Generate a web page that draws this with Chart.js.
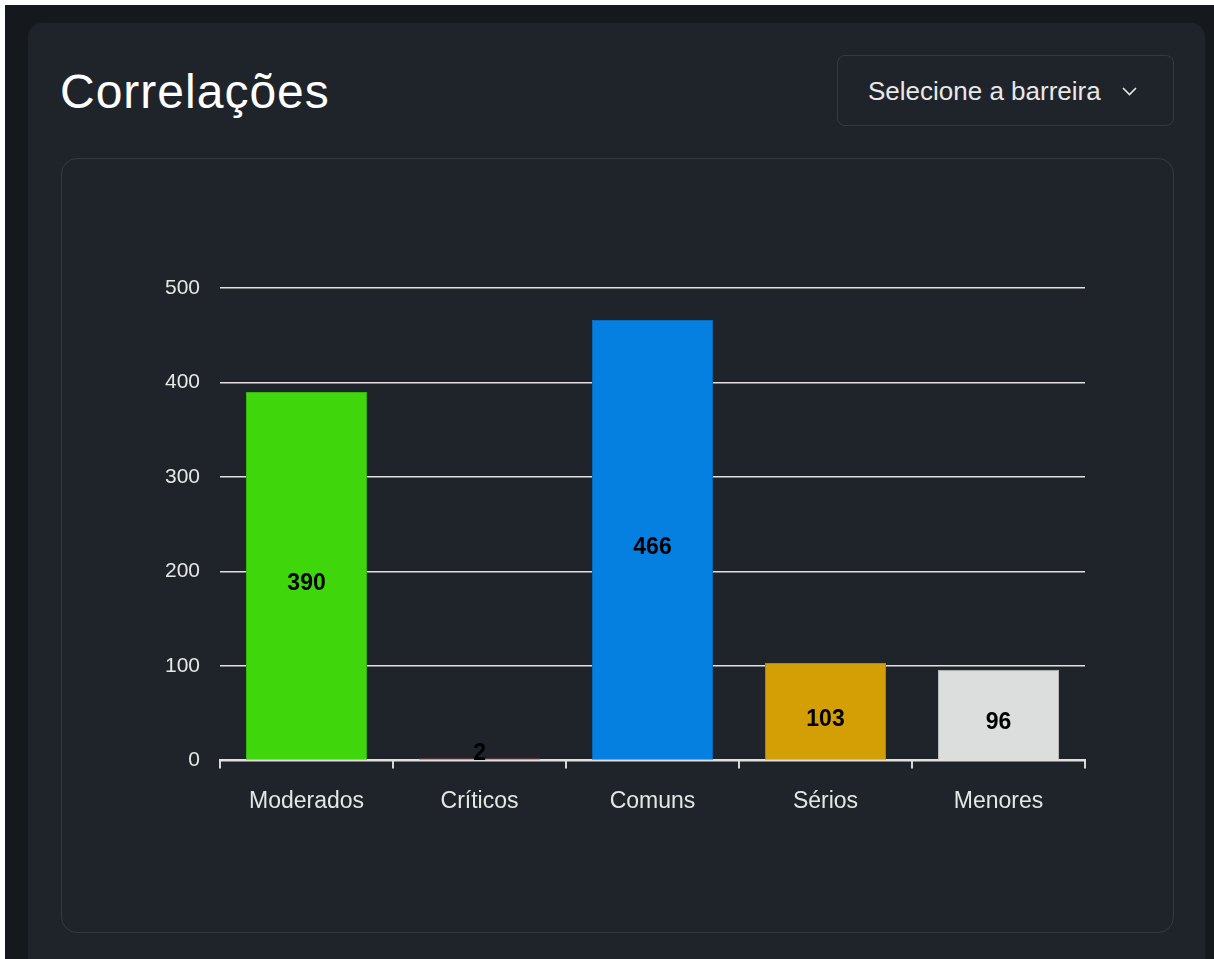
<!DOCTYPE html>
<html>
<head>
<meta charset="utf-8">
<script src="https://cdn.jsdelivr.net/npm/chart.js@4.4.0/dist/chart.umd.min.js"></script>
<style>
  body { margin: 0; background: #ffffff; overflow: hidden; }
  .page {
    position: absolute; left: 5px; top: 5px; width: 1209px; height: 954px;
    background: #15181c;
  }
  .card {
    position: absolute; left: 23px; top: 18px; width: 1177px; height: 960px;
    background: #1f242a; border-radius: 14px;
  }
  .title {
    position: absolute; left: 32px; top: 45px;
    font-family: "Liberation Sans", Arial, sans-serif; font-size: 48px; font-weight: 400;
    letter-spacing: 1px; color: #ffffff; margin: 0; line-height: 48px;
  }
  .select {
    position: absolute; left: 809px; top: 32px; width: 335px; height: 69px;
    border: 1px solid #353a41; border-radius: 8px;
    font-family: "Liberation Sans", Arial, sans-serif; font-size: 26px; color: #e8e8e8;
  }
  .select span { position: absolute; left: 30px; top: 20px; line-height: 30px; white-space: nowrap; }
  .select svg { position: absolute; left: 283px; top: 29px; }
  .box {
    position: absolute; left: 33px; top: 135px; width: 1111px; height: 773px;
    border: 1px solid #353a41; border-radius: 16px;
  }
  .box canvas { position: absolute; left: 0; top: 0; }
</style>
</head>
<body>
<div class="page">
  <div class="card">
    <h2 class="title">Correlações</h2>
    <div class="select">
      <span>Selecione a barreira</span>
      <svg width="17" height="12" viewBox="0 0 17 12"><path d="M2 3 L8.5 9.5 L15 3" fill="none" stroke="#e8e8e8" stroke-width="1.6"/></svg>
    </div>
    <div class="box">
      <canvas id="correlChart" width="1111" height="773"></canvas>
    </div>
  </div>
</div>
<script>
const categories = ['Moderados', 'Críticos', 'Comuns', 'Sérios', 'Menores'];
const counts = [390, 2, 466, 103, 96];
const yTicks = [0, 100, 200, 300, 400, 500];
const barColors = ['#3fd70c', '#e0524f', '#0680e0', '#d49e05', '#dcdedd'];
const barBorders = ['#36b80b', '#ef5f5a', '#056cbf', '#b88904', '#bfc1c0'];

// desenha o valor no meio de cada barra (mantém acima do eixo nas barras pequenas)
const valueLabels = {
  id: 'valueLabels',
  afterDatasetsDraw(chart) {
    const ctx = chart.ctx;
    ctx.save();
    ctx.font = 'bold 23px "Liberation Sans", Arial, sans-serif';
    ctx.fillStyle = '#000000';
    ctx.textAlign = 'center';
    ctx.textBaseline = 'middle';
    chart.getDatasetMeta(0).data.forEach(function (bar, i) {
      const p = bar.getCenterPoint();
      const y = Math.min(p.y + 8, bar.base - 6);
      ctx.fillText(String(counts[i]), p.x, y);
    });
    ctx.restore();
  }
};

const ctx = document.getElementById('correlChart').getContext('2d');
window.myChart = new Chart(ctx, {
  type: 'bar',
  data: {
    labels: categories,
    datasets: [{
      label: 'Correlações',
      data: counts,
      backgroundColor: barColors,
      borderColor: barBorders,
      borderWidth: 1,
      barPercentage: 0.7,
      categoryPercentage: 1
    }]
  },
  options: {
    responsive: false,
    animation: false,
    layout: { padding: { left: 83, right: 88, top: 129, bottom: 98 } },
    plugins: {
      legend: { display: false },
      tooltip: { enabled: false }
    },
    scales: {
      y: {
        min: yTicks[0],
        max: yTicks[yTicks.length - 1],
        afterBuildTicks: function (axis) {
          axis.ticks = yTicks.map(function (v) { return { value: v }; });
        },
        ticks: {
          padding: 20,
          color: '#e6e6e6',
          font: { family: '"Liberation Sans", Arial, sans-serif', size: 21 }
        },
        grid: { color: 'rgba(235,235,235,0.95)', lineWidth: 1.4, drawTicks: false },
        border: { display: false }
      },
      x: {
        ticks: {
          padding: 19,
          color: '#e6e6e6',
          font: { family: '"Liberation Sans", Arial, sans-serif', size: 23 }
        },
        grid: { drawOnChartArea: false, tickLength: 8, color: '#d8d8d8', lineWidth: 2 },
        border: { color: '#e0e0e0', width: 2 }
      }
    }
  },
  plugins: [valueLabels]
});
</script>
</body>
</html>
